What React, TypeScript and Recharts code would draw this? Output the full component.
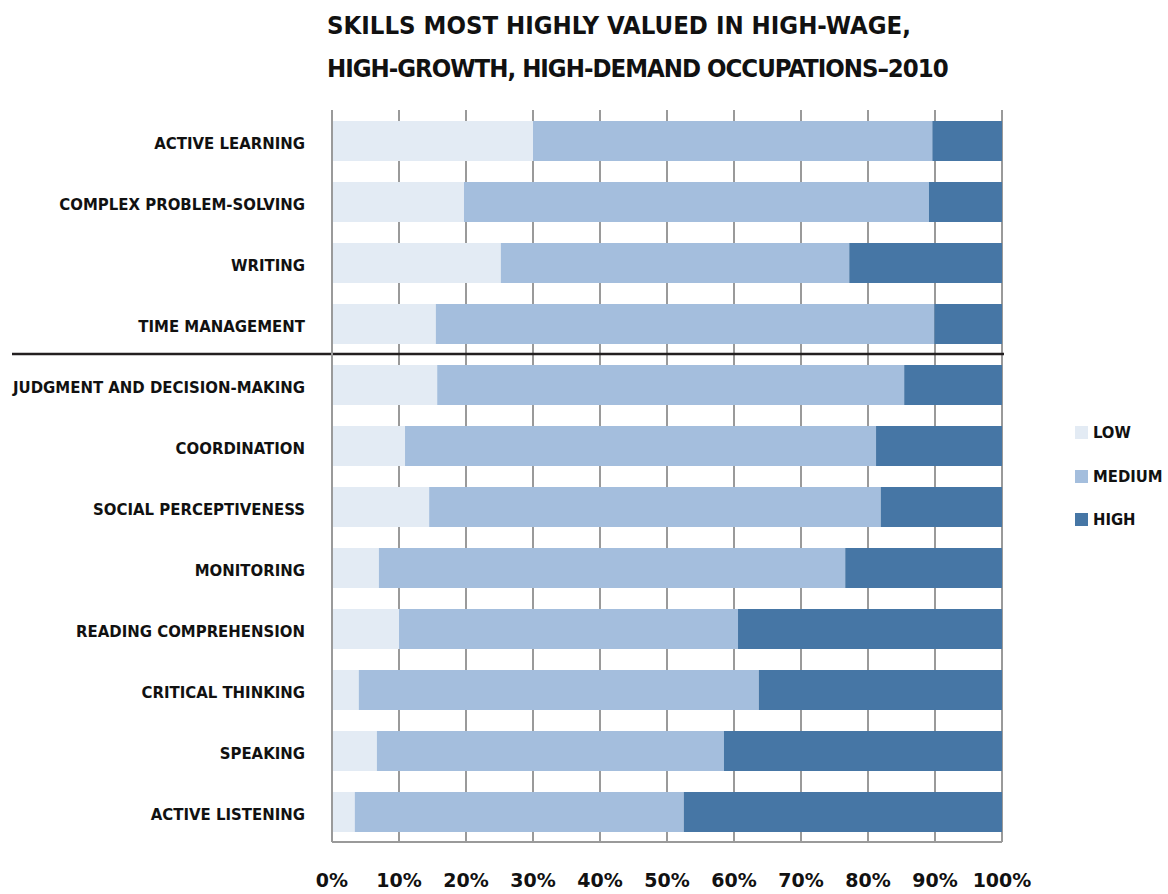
import { BarChart, Bar, XAxis, YAxis, CartesianGrid, Legend, ReferenceLine } from "recharts";

const skills = [
  "ACTIVE LEARNING",
  "COMPLEX PROBLEM-SOLVING",
  "WRITING",
  "TIME MANAGEMENT",
  "JUDGMENT AND DECISION-MAKING",
  "COORDINATION",
  "SOCIAL PERCEPTIVENESS",
  "MONITORING",
  "READING COMPREHENSION",
  "CRITICAL THINKING",
  "SPEAKING",
  "ACTIVE LISTENING",
];
const low = [30, 19.7, 25.2, 15.5, 15.7, 10.9, 14.5, 7, 10, 4, 6.7, 3.4];
const medium = [59.6, 69.4, 52, 74.4, 69.7, 70.3, 67.4, 69.6, 50.6, 59.7, 51.8, 49.1];
const high = [10.4, 10.9, 22.8, 10.1, 14.6, 18.8, 18.1, 23.4, 39.4, 36.3, 41.5, 47.5];
const xTicks = [0, 10, 20, 30, 40, 50, 60, 70, 80, 90, 100];
const levels = ["LOW", "MEDIUM", "HIGH"];

const data = skills.map((s, i) => ({ skill: s, LOW: low[i], MEDIUM: medium[i], HIGH: high[i] }));

const labelFont = "'DejaVu Sans Condensed', 'DejaVu Sans', sans-serif";

function LegendBox(props: any) {
  const { payload } = props;
  const items = levels.map((l) => payload.find((p: any) => p.value === l)).filter(Boolean);
  return (
    <div style={{ fontFamily: labelFont, fontWeight: "bold", fontSize: 16.5 }}>
      {items.map((p: any) => (
        <div key={p.value} style={{ display: "flex", alignItems: "center", height: 43.5 }}>
          <span style={{ width: 13, height: 13, background: p.color, display: "inline-block", marginRight: 5 }} />
          <span style={{ color: "#111" }}>{p.value}</span>
        </div>
      ))}
    </div>
  );
}

export default function App() {
  return (
    <div style={{ position: "absolute", left: 0, top: 0, width: 1168, height: 894, background: "#fff" }}>
      <div
        style={{
          position: "absolute",
          left: 327,
          top: 4,
          fontFamily: labelFont,
          fontWeight: "bold",
          fontSize: 25.5,
          lineHeight: "43px",
          color: "#111",
          zIndex: 2,
        }}
      >
        SKILLS MOST HIGHLY VALUED IN HIGH-WAGE,
        <br />
        <span style={{ letterSpacing: -1 }}>HIGH-GROWTH, HIGH-DEMAND OCCUPATIONS–2010</span>
      </div>
      <BarChart
        width={1168}
        height={894}
        data={data}
        layout="vertical"
        margin={{ top: 110, right: 73, left: 0, bottom: 0 }}
        barSize={40}
      >
        <CartesianGrid horizontal={false} stroke="#9a9a9a" strokeWidth={2} />
        <XAxis
          type="number"
          domain={[0, 100]}
          ticks={xTicks}
          tickFormatter={(v) => v + "%"}
          height={52}
          tickLine={false}
          tickMargin={26}
          axisLine={{ stroke: "#9a9a9a", strokeWidth: 2 }}
          tick={{ fill: "#111", fontFamily: "'DejaVu Sans', sans-serif", fontWeight: "bold", fontSize: 19 }}
        />
        <YAxis
          type="category"
          dataKey="skill"
          width={332}
          tickLine={false}
          tickMargin={21}
          axisLine={{ stroke: "#9a9a9a", strokeWidth: 2 }}
          interval={0}
          tick={{ fill: "#111", fontFamily: labelFont, fontWeight: "bold", fontSize: 16.6, dy: 3 }}
        />
        <Bar dataKey="LOW" stackId="a" fill="#e3ebf4" isAnimationActive={false} />
        <Bar dataKey="MEDIUM" stackId="a" fill="#a4bedd" isAnimationActive={false} />
        <Bar dataKey="HIGH" stackId="a" fill="#4676a5" isAnimationActive={false} />
        <ReferenceLine
          y="TIME MANAGEMENT"
          position="end"
          ifOverflow="visible"
          shape={(p: any) => (
            <line x1={12} y1={p.y1} x2={p.x2 + 2} y2={p.y2} stroke="#231f20" strokeWidth={2.5} />
          )}
        />
        <Legend
          layout="vertical"
          align="right"
          verticalAlign="middle"
          content={<LegendBox />}
          wrapperStyle={{ left: 1075, top: 411, width: 93 }}
        />
      </BarChart>
    </div>
  );
}
